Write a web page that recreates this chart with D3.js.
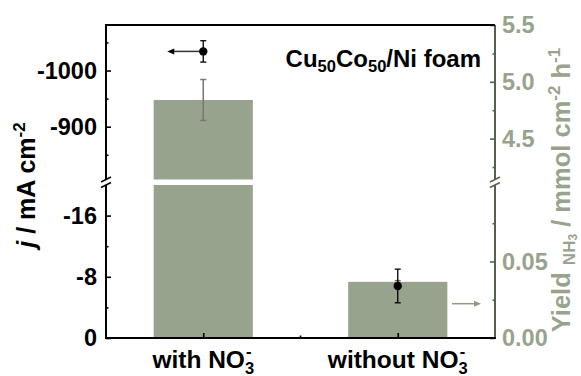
<!DOCTYPE html>
<html><head><meta charset="utf-8">
<script src="https://cdn.jsdelivr.net/npm/d3@7"></script>
<style>
body{margin:0;background:#fff;}
svg{display:block;font-family:"Liberation Sans",Arial,sans-serif;font-weight:bold;}
</style></head>
<body><svg id="c" width="581" height="376"></svg>
<script>
// ---- data ----
const categories = ["with NO3-", "without NO3-"];
const currentDensity = [-1034, -6.8];      // j / mA cm-2 (left axis, points)
const currentErr = [19, 2.2];
const yieldNH3 = [4.84, 0.0367];          // mmol cm-2 h-1 (right axis, bars)
const yieldErr = [0.18, 0.0008];
const leftUpperTicks = [-1000, -900];
const leftUpperMinor = [-1050, -950, -850];
const leftLowerTicks = [0, -8, -16];
const leftLowerMinor = [-4, -12];
const rightUpperTicks = [4.5, 5.0, 5.5];
const rightUpperMinor = [4.75, 5.25, 4.25];
const rightLowerTicks = [0, 0.05];
const rightLowerMinor = [0.025, 0.075];

// ---- layout ----
const X0 = 106, X1 = 495, YT = 25, YB = 338, BRK_U = 179.5, BRK_L = 185;
const barColor = "#98a38e", rightText = "#98a38e", rightLine = "#566050";
const svg = d3.select("#c");

const x = d3.scalePoint().domain(categories).range([X0, X1]).padding(0.5);
const barW = x.step() * 0.51;
const lU = d3.scaleLinear().domain([-806, -1081]).range([BRK_U, YT]);
const lL = d3.scaleLinear().domain([0, -20]).range([YB, BRK_L]);
const rU = d3.scaleLinear().domain([4.14, 5.5]).range([BRK_U, YT]);
const rL = d3.scaleLinear().domain([0, 0.1]).range([YB, BRK_L]);
const ly = v => v < -20 ? lU(v) : lL(v);
const ry = v => v > 0.1 ? rU(v) : rL(v);

// ---- bars ----
categories.forEach((c, i) => {
  const v = yieldNH3[i];
  const g = svg.append("g");
  if (v > 0.1) {
    g.append("rect").attr("x", x(c) - barW / 2).attr("width", barW)
      .attr("y", rU(v)).attr("height", BRK_U - rU(v)).attr("fill", barColor);
    g.append("rect").attr("x", x(c) - barW / 2).attr("width", barW)
      .attr("y", BRK_L).attr("height", YB - BRK_L).attr("fill", barColor);
  } else {
    g.append("rect").attr("x", x(c) - barW / 2).attr("width", barW)
      .attr("y", rL(v)).attr("height", YB - rL(v)).attr("fill", barColor);
  }
  const t = ry(v + yieldErr[i]), b = ry(v - yieldErr[i]);
  g.append("line").attr("x1", x(c)).attr("x2", x(c)).attr("y1", t).attr("y2", b)
    .attr("stroke", "#777").attr("stroke-width", 1.5);
  [t, b].forEach(yy => g.append("line").attr("x1", x(c) - 3).attr("x2", x(c) + 3)
    .attr("y1", yy).attr("y2", yy).attr("stroke", "#777").attr("stroke-width", 1.5));
});

// ---- axes ----
function styleAxis(g, col, textCol) {
  g.select(".domain").remove();
  g.selectAll("line").attr("stroke", col).attr("stroke-width", 1.6);
  g.selectAll("text").attr("fill", textCol).style("font-size", "23.5px")
    .style("font-family", '"Liberation Sans",Arial,sans-serif').style("font-weight", "bold");
}
const fmtL = d => d3.format("d")(d).replace("−", "-");
[[lU, leftUpperTicks, leftUpperMinor], [lL, leftLowerTicks, leftLowerMinor]].forEach(([s, tv, mv]) => {
  const g = svg.append("g").attr("transform", `translate(${X0},0)`)
    .call(d3.axisLeft(s).tickValues(tv).tickSizeInner(-5).tickSizeOuter(0).tickPadding(9).tickFormat(fmtL));
  styleAxis(g, "#000", "#000");
  const m = svg.append("g").attr("transform", `translate(${X0},0)`)
    .call(d3.axisLeft(s).tickValues(mv).tickSizeInner(-2.5).tickSizeOuter(0).tickFormat(""));
  styleAxis(m, "#000", "#000");
});
[[rU, rightUpperTicks, rightUpperMinor, d3.format(".1f")], [rL, rightLowerTicks, rightLowerMinor, d3.format(".2f")]].forEach(([s, tv, mv, f]) => {
  const g = svg.append("g").attr("transform", `translate(${X1},0)`)
    .call(d3.axisRight(s).tickValues(tv).tickSizeInner(-5).tickSizeOuter(0).tickPadding(7).tickFormat(f));
  styleAxis(g, rightLine, rightText);
  const m = svg.append("g").attr("transform", `translate(${X1},0)`)
    .call(d3.axisRight(s).tickValues(mv).tickSizeInner(-2.5).tickSizeOuter(0).tickFormat(""));
  styleAxis(m, rightLine, rightText);
});
const xb = svg.append("g").attr("transform", `translate(0,${YB})`)
  .call(d3.axisBottom(x).tickSizeInner(-5).tickSizeOuter(0).tickFormat(""));
styleAxis(xb, "#000", "#000");
svg.append("line").attr("x1", (X0 + X1) / 2).attr("x2", (X0 + X1) / 2).attr("y1", YB).attr("y2", YB - 2.5)
  .attr("stroke", "#000").attr("stroke-width", 1.6);

const L = (x1, y1, x2, y2, c, w) => svg.append("line").attr("x1", x1).attr("y1", y1).attr("x2", x2).attr("y2", y2)
  .attr("stroke", c).attr("stroke-width", w);
L(X0, YT, X0, BRK_U, "#000", 2);
L(X0, BRK_L, X0, YB, "#000", 2);
L(X1, YT, X1, BRK_U, rightLine, 2);
L(X1, BRK_L, X1, YB, rightLine, 2);
L(X0 - 1, YT, X1, YT, "#000", 2);
L(X0 - 1, YB, X1 + 1, YB, "#000", 2);
[[X0, "#000"], [X1, rightLine]].forEach(([xx, c]) => {
  [BRK_U, BRK_L].forEach(yy => L(xx - 5, yy + 2.5, xx + 5, yy - 2.5, c, 1.5));
});

// ---- points (current density) ----
categories.forEach((c, i) => {
  const v = currentDensity[i], cx = x(c);
  const t = ly(v - currentErr[i]), b = ly(v + currentErr[i]);
  L(cx, t, cx, b, "#000", 1.3);
  [t, b].forEach(yy => L(cx - 3, yy, cx + 3, yy, "#000", 1.3));
  svg.append("circle").attr("cx", cx).attr("cy", ly(v)).attr("r", 4.2).attr("fill", "#000");
});

// arrows
const y1 = ly(currentDensity[0]);
L(x(categories[0]) - 4, y1, x(categories[0]) - 30, y1, "#333", 1.5);
svg.append("path").attr("d", `M${x(categories[0]) - 36},${y1} l7,-3 l0,6 z`).attr("fill", "#000");
const y2 = 303.7;
L(452, y2, 474, y2, "#8e9886", 1.5);
svg.append("path").attr("d", `M481,${y2} l-7,-3 l0,6 z`).attr("fill", "#8e9886");

// ---- text ----
const title = svg.append("text").attr("x", 481).attr("y", 66.5).attr("text-anchor", "end")
  .style("font-size", "24px");
title.append("tspan").text("Cu");
title.append("tspan").text("50").attr("dy", 5).style("font-size", "16.5px");
title.append("tspan").text("Co").attr("dy", -5);
title.append("tspan").text("50").attr("dy", 5).style("font-size", "16.5px");
title.append("tspan").text("/Ni foam").attr("dy", -5);

function xLabel(cx, prefix) {
  const t = svg.append("text").attr("x", cx).attr("y", 368).attr("text-anchor", "middle").style("font-size", "24.5px");
  t.append("tspan").text(prefix + "NO");
  t.append("tspan").text("3").attr("dy", 6).style("font-size", "16.5px");
  t.append("tspan").text("-").attr("dx", -8).attr("dy", -17).style("font-size", "16.5px");
}
xLabel(x(categories[0]), "with ");
xLabel(x(categories[1]), "without ");

const lt = svg.append("text").attr("transform", "translate(35,185) rotate(-90)").attr("text-anchor", "middle")
  .style("font-size", "25px");
lt.append("tspan").text("j").style("font-style", "italic");
lt.append("tspan").text(" / mA cm");
lt.append("tspan").text("-2").attr("dy", -10).style("font-size", "17px");

const rt = svg.append("text").attr("transform", "translate(570,190) rotate(-90)").attr("text-anchor", "middle")
  .attr("fill", rightText).style("font-size", "25.5px");
rt.append("tspan").text("Yield ");
rt.append("tspan").text("NH").attr("dy", 5).style("font-size", "17px");
rt.append("tspan").text("3").attr("dy", 2).style("font-size", "12px");
rt.append("tspan").text(" / mmol cm").attr("dy", -7);
rt.append("tspan").text("-2").attr("dy", -10).style("font-size", "17px");
rt.append("tspan").text(" h").attr("dy", 10);
rt.append("tspan").text("-1").attr("dy", -10).style("font-size", "17px");
</script></body></html>
